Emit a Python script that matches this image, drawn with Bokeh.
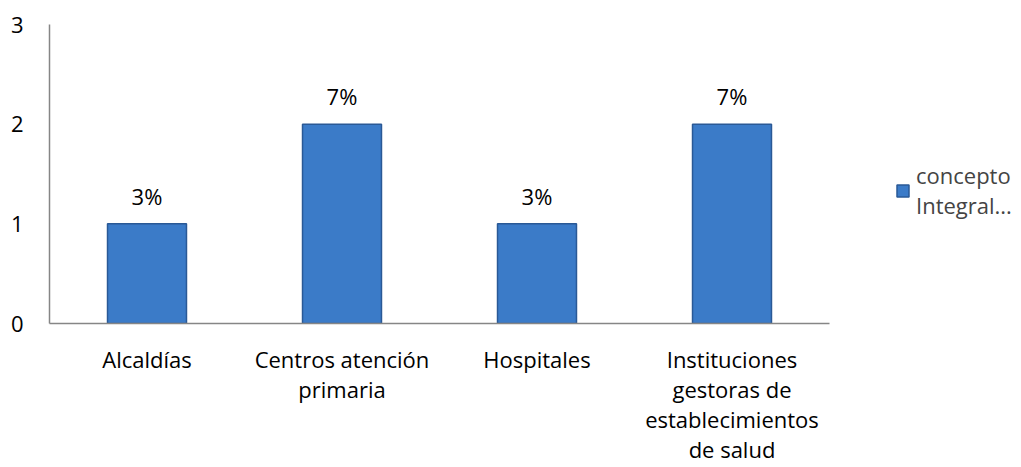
from bokeh.plotting import figure
from bokeh.models import ColumnDataSource, LabelSet, Legend, LegendItem, FixedTicker
from bokeh.core.properties import value
from bokeh.embed import file_html
from bokeh.resources import INLINE

categories = ["Alcaldías", "Centros atención\nprimaria", "Hospitales",
              "Instituciones\ngestoras de\nestablecimientos\nde salud"]
values = [1, 2, 1, 2]
pct_labels = ["3%", "7%", "3%", "7%"]
y_ticks = [0, 1, 2, 3]
series_name = "concepto\nIntegral..."

FONT = "Open Sans"
xpos = [i + 0.5 for i in range(len(categories))]
src = ColumnDataSource(dict(x=xpos, val=values, lab=pct_labels))

PX_PER_CAT = 195
FRAME_W = 966
p = figure(x_range=(0, FRAME_W / PX_PER_CAT), y_range=(0, 3),
           frame_width=FRAME_W, frame_height=299,
           output_backend="svg", toolbar_location=None,
           min_border_left=49, min_border_right=6, min_border_top=24,
           min_border_bottom=144)
p.outline_line_color = None
p.grid.grid_line_color = None

r = p.vbar(x="x", top="val", width=0.405, source=src,
           fill_color="#3b7bc8", line_color="#2a5996", line_width=1.5)

labels = LabelSet(x="x", y="val", text="lab", source=src, text_align="center",
                  text_baseline="middle", y_offset=28, text_font=value(FONT),
                  text_font_size=value("22px"), text_color=value("#000000"))
p.add_layout(labels)

p.yaxis.ticker = FixedTicker(ticks=y_ticks)
p.xaxis.ticker = FixedTicker(ticks=xpos)
p.xaxis.major_label_overrides = {x: c for x, c in zip(xpos, categories)}
p.xaxis.bounds = (0, len(categories))
for ax in (p.xaxis[0], p.yaxis[0]):
    ax.axis_line_color = "#868686"
    ax.axis_line_width = 1.5
    ax.major_tick_line_color = None
    ax.minor_tick_line_color = None
    ax.major_label_text_font = FONT
    ax.major_label_text_font_size = "22px"
    ax.major_label_text_color = "#000000"
    ax.major_label_text_line_height = 1.0
p.yaxis.major_label_standoff = 20
p.xaxis.major_label_standoff = 14

legend = Legend(items=[LegendItem(label=series_name, renderers=[r])],
                location=(846, 103), border_line_color=None,
                background_fill_alpha=0, label_text_font=FONT,
                label_text_font_size="22px", label_text_line_height=1.0,
                glyph_width=15, glyph_height=15,
                label_standoff=6, padding=0, margin=0)
p.add_layout(legend, "center")

open("out.html", "w").write(file_html(p, INLINE))
